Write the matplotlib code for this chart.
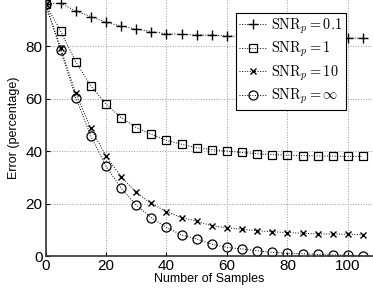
import matplotlib
matplotlib.use("Agg")
import matplotlib.pyplot as plt

plt.rcParams['mathtext.fontset'] = 'cm'
plt.rcParams['font.family'] = ['Liberation Sans', 'DejaVu Sans']

x = list(range(0, 110, 5))
snr_01 = [96, 96.3, 93.3, 91.2, 89.0, 87.6, 86.4, 85.5, 84.7, 84.4, 84.2, 84.2, 83.8,
          83.7, 83.6, 83.5, 83.4, 83.3, 83.2, 83.1, 83.0, 83.0]
snr_1 = [96, 85.7, 74.0, 64.8, 57.9, 52.8, 49.0, 46.4, 44.1, 42.6, 41.3, 40.6, 40.0,
         39.5, 39.0, 38.7, 38.5, 38.3, 38.2, 38.1, 38.0, 38.0]
snr_10 = [96, 79.2, 62.0, 48.7, 38.1, 30.3, 24.3, 20.1, 17.0, 14.7, 13.4, 11.6, 10.9,
          10.3, 9.7, 9.4, 9.0, 8.8, 8.5, 8.5, 8.4, 8.2]
snr_inf = [96, 78.5, 60.3, 45.7, 34.3, 25.9, 19.5, 14.7, 11.0, 8.1, 6.6, 4.6, 3.4,
           2.8, 2.1, 1.5, 1.1, 1.0, 0.7, 0.5, 0.4, 0.3]
labels = [r'$\mathrm{SNR}_p = 0.1\;\;$', r'$\mathrm{SNR}_p = 1$',
          r'$\mathrm{SNR}_p = 10$', r'$\mathrm{SNR}_p = \infty$']

fig = plt.figure(figsize=(3.73, 2.88), dpi=100)
ax = fig.add_axes([0.122, 0.110, 0.878, 0.890])

line_kw = dict(color='black', linestyle=':', linewidth=0.7)
ax.plot(x, snr_01, marker='+', markersize=7, markeredgewidth=1.0, label=labels[0], **line_kw)
ax.plot(x, snr_1, marker='s', markersize=5.5, markerfacecolor='none', markeredgewidth=0.9, label=labels[1], **line_kw)
ax.plot(x, snr_10, marker='x', markersize=4.5, markeredgewidth=1.0, label=labels[2], **line_kw)
ax.plot(x, snr_inf, marker='o', markersize=6.5, markerfacecolor='none', markeredgewidth=0.9, label=labels[3], **line_kw)

ax.set_xlim(0, 108.3)
ax.set_ylim(0, 97.5)
ax.set_xticks([0, 20, 40, 60, 80, 100])
ax.set_yticks([0, 20, 40, 60, 80])
ax.grid(True, linestyle=':', color='#999999', linewidth=0.7)
ax.tick_params(direction='in', labelsize=11, length=3, width=0.8, pad=2)
for s in ['top', 'right']:
    ax.spines[s].set_visible(False)
for s in ['left', 'bottom']:
    ax.spines[s].set_linewidth(1.2)
    ax.spines[s].set_color('#333333')

ax.set_xlabel('Number of Samples', fontsize=9, labelpad=0)
ax.set_ylabel('Error (percentage)', fontsize=9, labelpad=4)

leg = ax.legend(loc='upper left', bbox_to_anchor=(235.7 / 373, 1 - 12.7 / 288),
                bbox_transform=fig.transFigure, borderaxespad=0, fontsize=10.3,
                fancybox=False, framealpha=1, edgecolor='black', handlelength=1.9,
                borderpad=0.25, labelspacing=0.3, handletextpad=0.35)
leg.get_frame().set_linewidth(0.8)

fig.savefig('out.png', dpi=100)
